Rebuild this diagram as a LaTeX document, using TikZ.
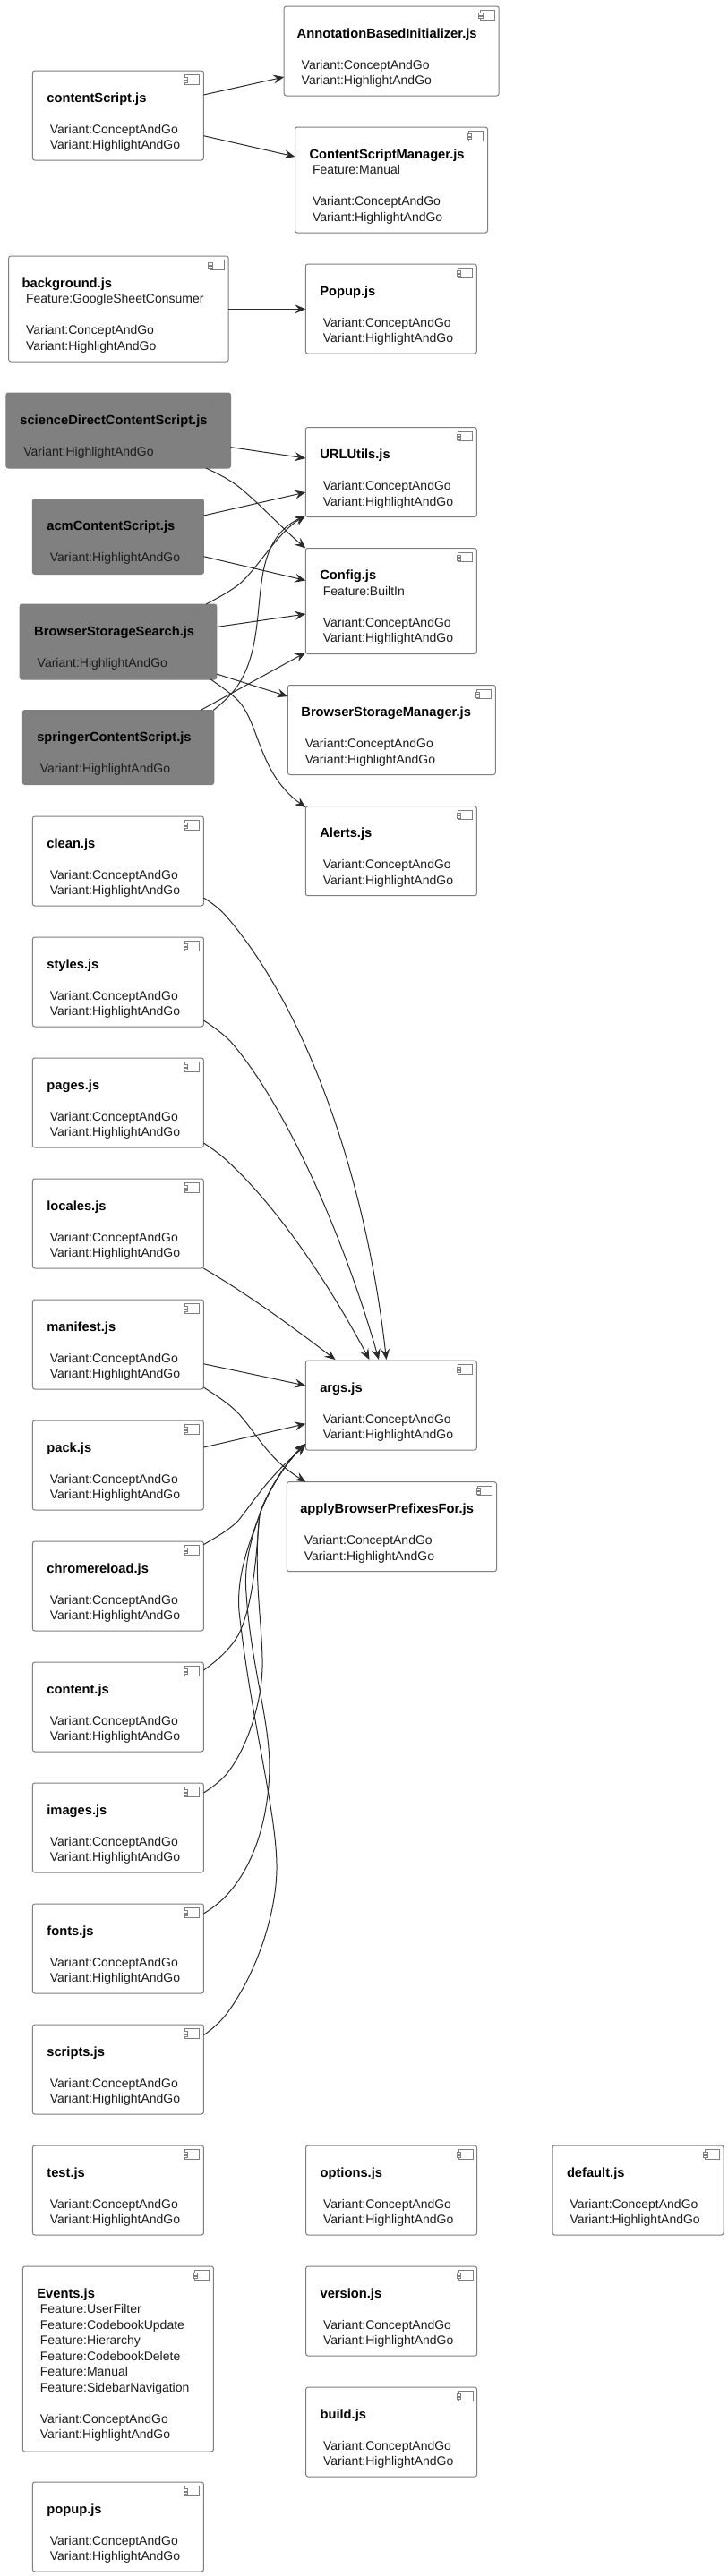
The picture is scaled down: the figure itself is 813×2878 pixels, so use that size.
\documentclass[tikz,border=0pt]{standalone}
\usepackage{fontspec}
\setmainfont{Liberation Sans}
\usetikzlibrary{arrows.meta}
\definecolor{boxline}{HTML}{7F7F7F}
\definecolor{darkfill}{HTML}{808080}
\definecolor{edgeink}{HTML}{2A2A2A}
\definecolor{txt}{HTML}{1C1C1C}
\tikzset{
  compbox/.style={draw=boxline,line width=1pt,rounded corners=2.5pt,inner sep=0pt,outer sep=0pt,anchor=north west,text=txt},
  iconpart/.style={draw=boxline,line width=.9pt},
  conn/.style={draw=edgeink,line width=1pt,-{Stealth[length=12pt,width=10pt,inset=4.5pt]}}
}
\newcommand\ttl[2][16pt]{\rule{0pt}{35pt}\hspace*{#1}{\fontsize{14.7}{17.5}\selectfont\bfseries\color{black}#2}}
\newcommand\fl[1]{\\\hspace*{19.5pt}#1}
\newcommand\vca{\\[17.5pt]\hspace*{19.5pt}Variant:ConceptAndGo}
\newcommand\vcb{\fl{Variant:HighlightAndGo}}
\newcommand\vhonly{\\[17.5pt]\hspace*{19.5pt}Variant:HighlightAndGo}
\newcommand\comp[7]{%
  \node[compbox,fill=#1,minimum width=#5pt,minimum height=#6pt] (#2) at (#3,#4)
    {\parbox[c][#6pt][t]{#5pt}{\fontsize{14}{17.5}\selectfont\raggedright #7}};
  \path[iconpart,fill=#1] ([shift={(-20.6,4.7)}]#2.north east) rectangle ([shift={(-4.6,15)}]#2.north east);
  \path[iconpart,fill=#1] ([shift={(-22.3,7.5)}]#2.north east) rectangle ([shift={(-18,10.2)}]#2.north east);
  \path[iconpart,fill=#1] ([shift={(-22.3,11)}]#2.north east) rectangle ([shift={(-18,13.7)}]#2.north east);
}
\begin{document}
\begin{tikzpicture}[x=1pt,y=-1pt]
\useasboundingbox[fill=white] (0,0) rectangle (813,2878);
% top group
\comp{white}{AnnotationBasedInitializer}{317.2}{7}{240}{100}{\ttl[14.5pt]{AnnotationBasedInitializer.js}\vca\vcb}
\comp{white}{contentScript}{36.4}{79}{191}{100}{\ttl{contentScript.js}\vca\vcb}
\comp{white}{ContentScriptManager}{329.5}{142}{215}{118}{\ttl{ContentScriptManager.js}\fl{Feature:Manual}\vca\vcb}
\comp{white}{background}{9.6}{286}{245.6}{118}{\ttl[15pt]{background.js}\fl{Feature:GoogleSheetConsumer}\vca\vcb}
\comp{white}{PopupUp}{341.3}{295}{191}{100}{\ttl{Popup.js}\vca\vcb}
% second group
\comp{darkfill}{scienceDirect}{6.9}{439}{250.6}{84}{\ttl[15.5pt]{scienceDirectContentScript.js}\vhonly}
\comp{white}{URLUtils}{341.3}{477.5}{191}{100}{\ttl{URLUtils.js}\vca\vcb}
\comp{darkfill}{acm}{36.4}{557.5}{191}{84}{\ttl{acmContentScript.js}\vhonly}
\comp{white}{Config}{341.3}{612.5}{191}{118}{\ttl{Config.js}\fl{Feature:BuiltIn}\vca\vcb}
\comp{darkfill}{BrowserStorageSearch}{22.2}{675}{219.6}{84}{\ttl{BrowserStorageSearch.js}\vhonly}
\comp{white}{BrowserStorageManager}{321.4}{765.5}{231.9}{100}{\ttl[15pt]{BrowserStorageManager.js}\vca\vcb}
\comp{darkfill}{springer}{25.3}{793.5}{213.5}{83}{\ttl{springerContentScript.js}\vhonly}
\comp{white}{Alerts}{341.3}{900.7}{191}{100}{\ttl{Alerts.js}\vca\vcb}
% build scripts
\comp{white}{clean}{36.4}{912}{191}{100}{\ttl{clean.js}\vca\vcb}
\comp{white}{styles}{36.4}{1047}{191}{100}{\ttl{styles.js}\vca\vcb}
\comp{white}{pages}{36.4}{1182}{191}{100}{\ttl{pages.js}\vca\vcb}
\comp{white}{locales}{36.4}{1317}{191}{100}{\ttl{locales.js}\vca\vcb}
\comp{white}{manifest}{36.4}{1452}{191}{100}{\ttl{manifest.js}\vca\vcb}
\comp{white}{pack}{36.4}{1587}{191}{100}{\ttl{pack.js}\vca\vcb}
\comp{white}{chromereload}{36.4}{1722}{191}{100}{\ttl{chromereload.js}\vca\vcb}
\comp{white}{content}{36.4}{1857}{191}{100}{\ttl{content.js}\vca\vcb}
\comp{white}{images}{36.4}{1992}{191}{100}{\ttl{images.js}\vca\vcb}
\comp{white}{fonts}{36.4}{2127}{191}{100}{\ttl{fonts.js}\vca\vcb}
\comp{white}{scripts}{36.4}{2262}{191}{100}{\ttl{scripts.js}\vca\vcb}
\comp{white}{args}{341.3}{1520}{191}{100}{\ttl{args.js}\vca\vcb}
\comp{white}{apply}{320.3}{1655.7}{234.2}{100}{\ttl[15pt]{applyBrowserPrefixesFor.js}\vca\vcb}
% unconnected
\comp{white}{test}{36.4}{2397}{191}{100}{\ttl{test.js}\vca\vcb}
\comp{white}{options}{341.6}{2397}{191}{100}{\ttl{options.js}\vca\vcb}
\comp{white}{default}{617}{2397}{191}{100}{\ttl{default.js}\vca\vcb}
\comp{white}{Events}{25.4}{2532}{213}{207}{\ttl{Events.js}\fl{Feature:UserFilter}\fl{Feature:CodebookUpdate}\fl{Feature:Hierarchy}\fl{Feature:CodebookDelete}\fl{Feature:Manual}\fl{Feature:SidebarNavigation}\vca\vcb}
\comp{white}{version}{341.6}{2532}{191}{100}{\ttl{version.js}\vca\vcb}
\comp{white}{build}{341.6}{2667}{191}{100}{\ttl{build.js}\vca\vcb}
\comp{white}{popup}{36.4}{2773}{191}{100}{\ttl{popup.js}\vca\vcb}
% connectors: straight
\draw[conn] ([yshift=-27pt]contentScript.north east) -- ([yshift=-79pt]AnnotationBasedInitializer.north west);
\draw[conn] ([yshift=-72.7pt]contentScript.north east) -- ([yshift=-33pt]ContentScriptManager.north west);
\draw[conn] ([yshift=-59.3pt]background.north east) -- ([yshift=-50.3pt]PopupUp.north west);
\draw[conn] ([yshift=-60.6pt]scienceDirect.north east) -- ([yshift=-34.5pt]URLUtils.north west);
\draw[conn] ([yshift=-18.5pt]acm.north east) -- ([yshift=-72.5pt]URLUtils.north west);
\draw[conn] ([yshift=-64.2pt]acm.north east) -- ([yshift=-36pt]Config.north west);
\draw[conn] ([yshift=-25.5pt]BrowserStorageSearch.north east) -- ([yshift=-73.5pt]Config.north west);
\draw[conn] ([yshift=-78pt]BrowserStorageSearch.north east) -- ([yshift=-12.5pt]BrowserStorageManager.north west);
\draw[conn] ([xshift=198.7pt]springer.north west) -- ([yshift=-116.5pt]Config.north west);
\draw[conn] ([yshift=-71.7pt]manifest.north east) -- ([yshift=-28pt]args.north west);
\draw[conn] ([yshift=-30pt]pack.north east) -- ([yshift=-70.7pt]args.north west);
% connectors: curved
\draw[conn] ([xshift=-27.5pt]scienceDirect.south east) .. controls (243,529) and (257,536) .. (268,545) .. controls (290,563) and (315,590) .. (Config.north west);
\draw[conn] ([xshift=208pt]BrowserStorageSearch.north west) .. controls (245,667) and (258,660) .. (268,652) .. controls (290,632) and (310,595) .. ([yshift=-98.5pt]URLUtils.north west);
\draw[conn] ([xshift=-6.5pt]BrowserStorageSearch.south east) .. controls (248,768) and (259,775) .. (268,785) .. controls (290,812) and (290,865) .. ([yshift=-1.3pt]Alerts.north west);
\draw[conn] ([xshift=-0.5pt]springer.north east) .. controls (250,784) and (260,775) .. (268,762) .. controls (305,700) and (270,610) .. ([yshift=-98.5pt]URLUtils.north west);
\draw[conn] ([yshift=-91pt]clean.north east) .. controls (237,1009) and (246,1016) .. (253,1024) .. controls (340,1125) and (408,1310) .. ([xshift=90.2pt,yshift=1pt]args.north west);
\draw[conn] ([yshift=-93pt]styles.north east) .. controls (238,1147) and (248,1154) .. (257,1163) .. controls (320,1235) and (385,1385) .. ([xshift=81.7pt,yshift=1pt]args.north west);
\draw[conn] ([yshift=-95pt]pages.north east) .. controls (238,1284) and (248,1291) .. (257,1300) .. controls (310,1350) and (365,1430) .. ([xshift=71.2pt,yshift=1pt]args.north west);
\draw[conn] ([yshift=-100pt]locales.north east) .. controls (280,1448) and (330,1485) .. ([xshift=33.2pt,yshift=1pt]args.north west);
\draw[conn] ([yshift=-98pt]manifest.north east) .. controls (243,1560) and (257,1569) .. (268,1581) .. controls (288,1604) and (300,1630) .. ([xshift=21pt]apply.north west);
\draw[conn] ([yshift=-3.7pt]chromereload.north east) .. controls (240,1718) and (255,1710) .. (266,1699) .. controls (285,1675) and (300,1650) .. ([yshift=-95pt]args.north west);
\draw[conn] ([yshift=-9pt]content.north east) .. controls (240,1857) and (255,1845) .. (266,1827) .. controls (285,1790) and (287,1720) .. (290,1692) .. controls (297,1670) and (318,1635) .. ([yshift=-93pt]args.north west);
\draw[conn] ([yshift=-11pt]images.north east) .. controls (237,1997) and (246,1990) .. (253,1982) .. controls (275,1955) and (292,1905) .. (293,1863) .. controls (294,1820) and (282,1760) .. (290,1692) .. controls (297,1670) and (318,1635) .. ([yshift=-93pt]args.north west);
\draw[conn] ([yshift=-11pt]fonts.north east) .. controls (237,2132) and (248,2124) .. (257,2113) .. controls (285,2080) and (300,2030) .. (301,1975) .. controls (301,1920) and (280,1860) .. (275,1780) .. controls (272,1745) and (282,1715) .. (290,1692) .. controls (297,1670) and (318,1635) .. ([yshift=-93pt]args.north west);
\draw[conn] ([yshift=-11.7pt]scripts.north east) .. controls (237,2267) and (246,2259) .. (253,2250) .. controls (290,2200) and (310,2130) .. (309,2083) .. controls (308,2020) and (280,1920) .. (267,1800) .. controls (264,1760) and (278,1725) .. (290,1692) .. controls (297,1670) and (318,1635) .. ([yshift=-93pt]args.north west);
\end{tikzpicture}
\end{document}
